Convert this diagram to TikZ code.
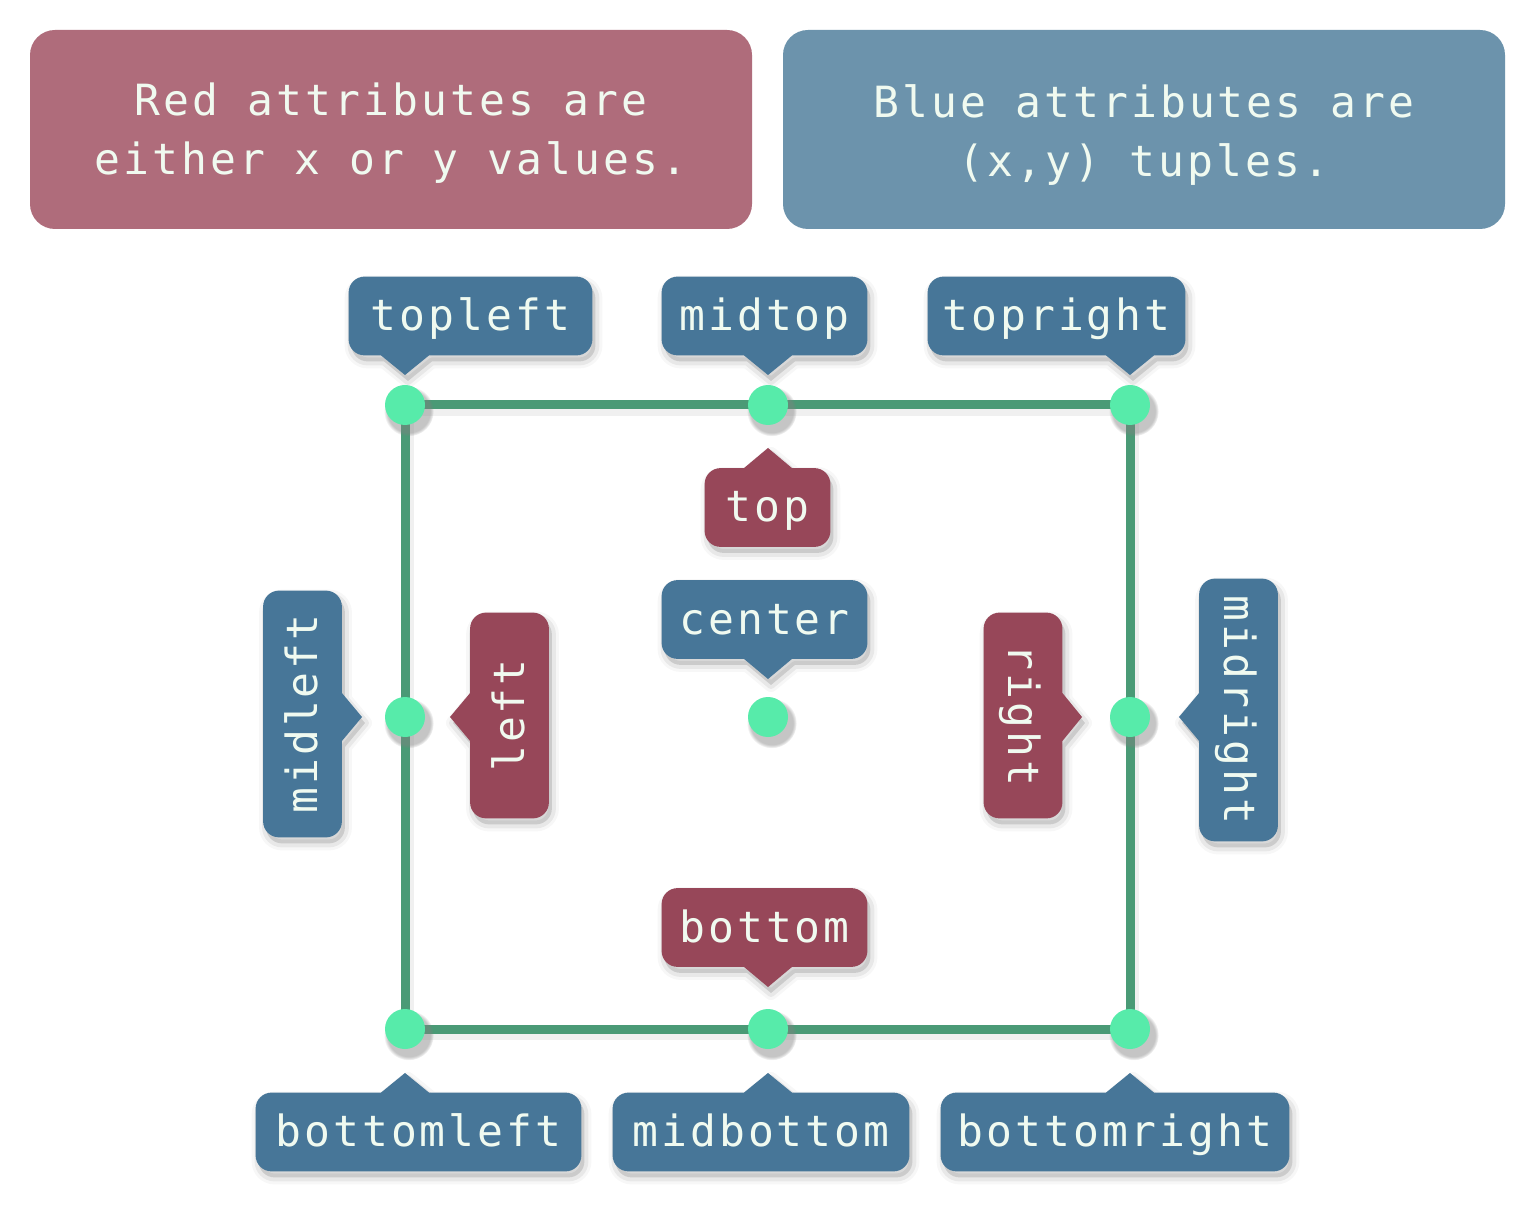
\documentclass[tikz,border=0pt]{standalone}
\usepackage{fontspec}
\newfontfamily\tagfont[LetterSpace=7.2]{DejaVu Sans Mono}
\usetikzlibrary{calc,backgrounds,shadows}

\definecolor{redpanel}{HTML}{AF6C7B}
\definecolor{bluepanel}{HTML}{6C93AC}
\definecolor{redtag}{HTML}{974759}
\definecolor{bluetag}{HTML}{477698}
\definecolor{edgegreen}{HTML}{4A9A76}
\definecolor{dotgreen}{HTML}{57EBAA}
\definecolor{tagtext}{HTML}{F0FAF0}

\pgfdeclarelayer{canvas}
\pgfsetlayers{canvas,background,main}

\tikzset{
  tagshadow/.style={
    preaction={fill=black,opacity=0.12,transform canvas={xshift=1.5pt,yshift=-3pt}},
    preaction={draw=black,opacity=0.06,line width=4pt,line join=round,transform canvas={xshift=1.5pt,yshift=-3pt}},
    preaction={draw=black,opacity=0.03,line width=7pt,line join=round,transform canvas={xshift=1.5pt,yshift=-3pt}}},
  tag/.style={text=tagtext,font=\tagfont\fontsize{21.5pt}{26pt}\selectfont,
    minimum height=39pt,inner xsep=6pt,inner ysep=0pt,text height=18pt,text depth=3.5pt},
  panel/.style={minimum width=361pt,minimum height=99.5pt,rounded corners=12.5pt,inner sep=0pt},
  paneltext/.style={text=tagtext,font=\tagfont\fontsize{21.5pt}{29.5pt}\selectfont,align=center,inner sep=0pt},
  edge/.style={edgegreen,line width=4.5pt},
  edgeshadow/.style={black,opacity=0.06,line width=6pt,transform canvas={xshift=1.5pt,yshift=-2.5pt}},
  dot/.style={circle,fill=dotgreen,minimum size=20pt,inner sep=0pt,
    circular drop shadow={shadow xshift=1.5pt,shadow yshift=-2.5pt,shadow scale=1.25,opacity=0.45}}
}

% tag body with its pointer on the node's own south / north side
\newcommand{\tagsouth}[3]{%
  \coordinate (#1-foot) at ($(#1.south west)!(#2)!(#1.south east)$);
  \begin{pgfonlayer}{background}
    \fill[#3,tagshadow] (#1.north) [rounded corners=8pt] -- (#1.north east) -- (#1.south east)
      [sharp corners] -- ($(#1-foot)!12pt!(#1.south east)$) -- (#2) -- ($(#1-foot)!12pt!(#1.south west)$)
      [rounded corners=8pt] -- (#1.south west) -- (#1.north west) -- cycle;
  \end{pgfonlayer}}
\newcommand{\tagnorth}[3]{%
  \coordinate (#1-foot) at ($(#1.north west)!(#2)!(#1.north east)$);
  \begin{pgfonlayer}{background}
    \fill[#3,tagshadow] (#1.south) [rounded corners=8pt] -- (#1.south west) -- (#1.north west)
      [sharp corners] -- ($(#1-foot)!12pt!(#1.north west)$) -- (#2) -- ($(#1-foot)!12pt!(#1.north east)$)
      [rounded corners=8pt] -- (#1.north east) -- (#1.south east) -- cycle;
  \end{pgfonlayer}}

\begin{document}
\begin{tikzpicture}[x=0.5pt,y=-0.5pt]
  \useasboundingbox (0,0) rectangle (1536,1224);
  \begin{pgfonlayer}{canvas}
    \fill[white] (0,0) rectangle (1536,1224);
  \end{pgfonlayer}

  % the two panels
  \node[panel,fill=redpanel] (redbox) at (391,129.5) {};
  \node[paneltext] (redtext) at ([yshift=-2pt]redbox.center) {Red attributes are\\either x or y values.};
  \node[panel,fill=bluepanel] (bluebox) at (1144,129.5) {};
  \node[paneltext] (bluetext) at ([yshift=-3pt]bluebox.center) {Blue attributes are\\(x,y) tuples.};

  % the rectangle and its points
  \coordinate (tl) at (405,405);
  \coordinate (mt) at (768,405);
  \coordinate (tr) at (1130,405);
  \coordinate (ml) at (405,717);
  \coordinate (c) at (768,717);
  \coordinate (mr) at (1130,717);
  \coordinate (bl) at (405,1029);
  \coordinate (mb) at (768,1029);
  \coordinate (br) at (1130,1029);

  \draw[edgeshadow] (tl) -- (tr) -- (br) -- (bl) -- cycle;
  \draw[edge] (tl) -- (tr) -- (br) -- (bl) -- cycle;

  \node[dot] (dtl) at (tl) {};
  \node[dot] (dmt) at (mt) {};
  \node[dot] (dtr) at (tr) {};
  \node[dot] (dml) at (ml) {};
  \node[dot] (dc) at (c) {};
  \node[dot] (dmr) at (mr) {};
  \node[dot] (dbl) at (bl) {};
  \node[dot] (dmb) at (mb) {};
  \node[dot] (dbr) at (br) {};

  % tags
  \node[tag,minimum width=121.5pt] (ltopleft) at (470.5,316) {topleft};
  \node[tag,minimum width=102.5pt] (lmidtop) at (764.5,316) {midtop};
  \node[tag,minimum width=128.5pt] (ltopright) at (1056.5,316) {topright};
  \node[tag,minimum width=62.5pt] (ltop) at (767.5,507.5) {top};
  \node[tag,minimum width=102.5pt] (lcenter) at (764.5,619.5) {center};
  \node[tag,minimum width=102.5pt] (lbottom) at (764.5,927.5) {bottom};
  \node[tag,minimum width=162.5pt] (lbottomleft) at (418.5,1132) {bottomleft};
  \node[tag,minimum width=148pt] (lmidbottom) at (761,1132) {midbottom};
  \node[tag,minimum width=174pt] (lbottomright) at (1115,1132) {bottomright};
  \node[tag,rotate=90,minimum width=123pt] (lmidleft) at (302.5,714) {midleft};
  \node[tag,rotate=90,minimum width=102.5pt] (lleft) at (509.5,715.5) {left};
  \node[tag,rotate=-90,minimum width=102.5pt] (lright) at (1023,715.5) {right};
  \node[tag,rotate=-90,minimum width=131pt] (lmidright) at (1238.5,710) {midright};

  % pointer tips
  \coordinate (ptopleft) at (405,375);
  \coordinate (pmidtop) at (768,375);
  \coordinate (ptopright) at (1130,375);
  \coordinate (ptop) at (768,448);
  \coordinate (pcenter) at (768,679);
  \coordinate (pbottom) at (768,987);
  \coordinate (pbottomleft) at (405,1073);
  \coordinate (pmidbottom) at (768,1073);
  \coordinate (pbottomright) at (1130,1073);
  \coordinate (pmidleft) at (362,717);
  \coordinate (pleft) at (450,717);
  \coordinate (pright) at (1082,717);
  \coordinate (pmidright) at (1179,717);

  \tagsouth{ltopleft}{ptopleft}{bluetag}
  \tagsouth{lmidtop}{pmidtop}{bluetag}
  \tagsouth{ltopright}{ptopright}{bluetag}
  \tagnorth{ltop}{ptop}{redtag}
  \tagsouth{lcenter}{pcenter}{bluetag}
  \tagsouth{lbottom}{pbottom}{redtag}
  \tagnorth{lbottomleft}{pbottomleft}{bluetag}
  \tagnorth{lmidbottom}{pmidbottom}{bluetag}
  \tagnorth{lbottomright}{pbottomright}{bluetag}
  \tagsouth{lmidleft}{pmidleft}{bluetag}
  \tagnorth{lleft}{pleft}{redtag}
  \tagnorth{lright}{pright}{redtag}
  \tagsouth{lmidright}{pmidright}{bluetag}
\end{tikzpicture}
\end{document}
